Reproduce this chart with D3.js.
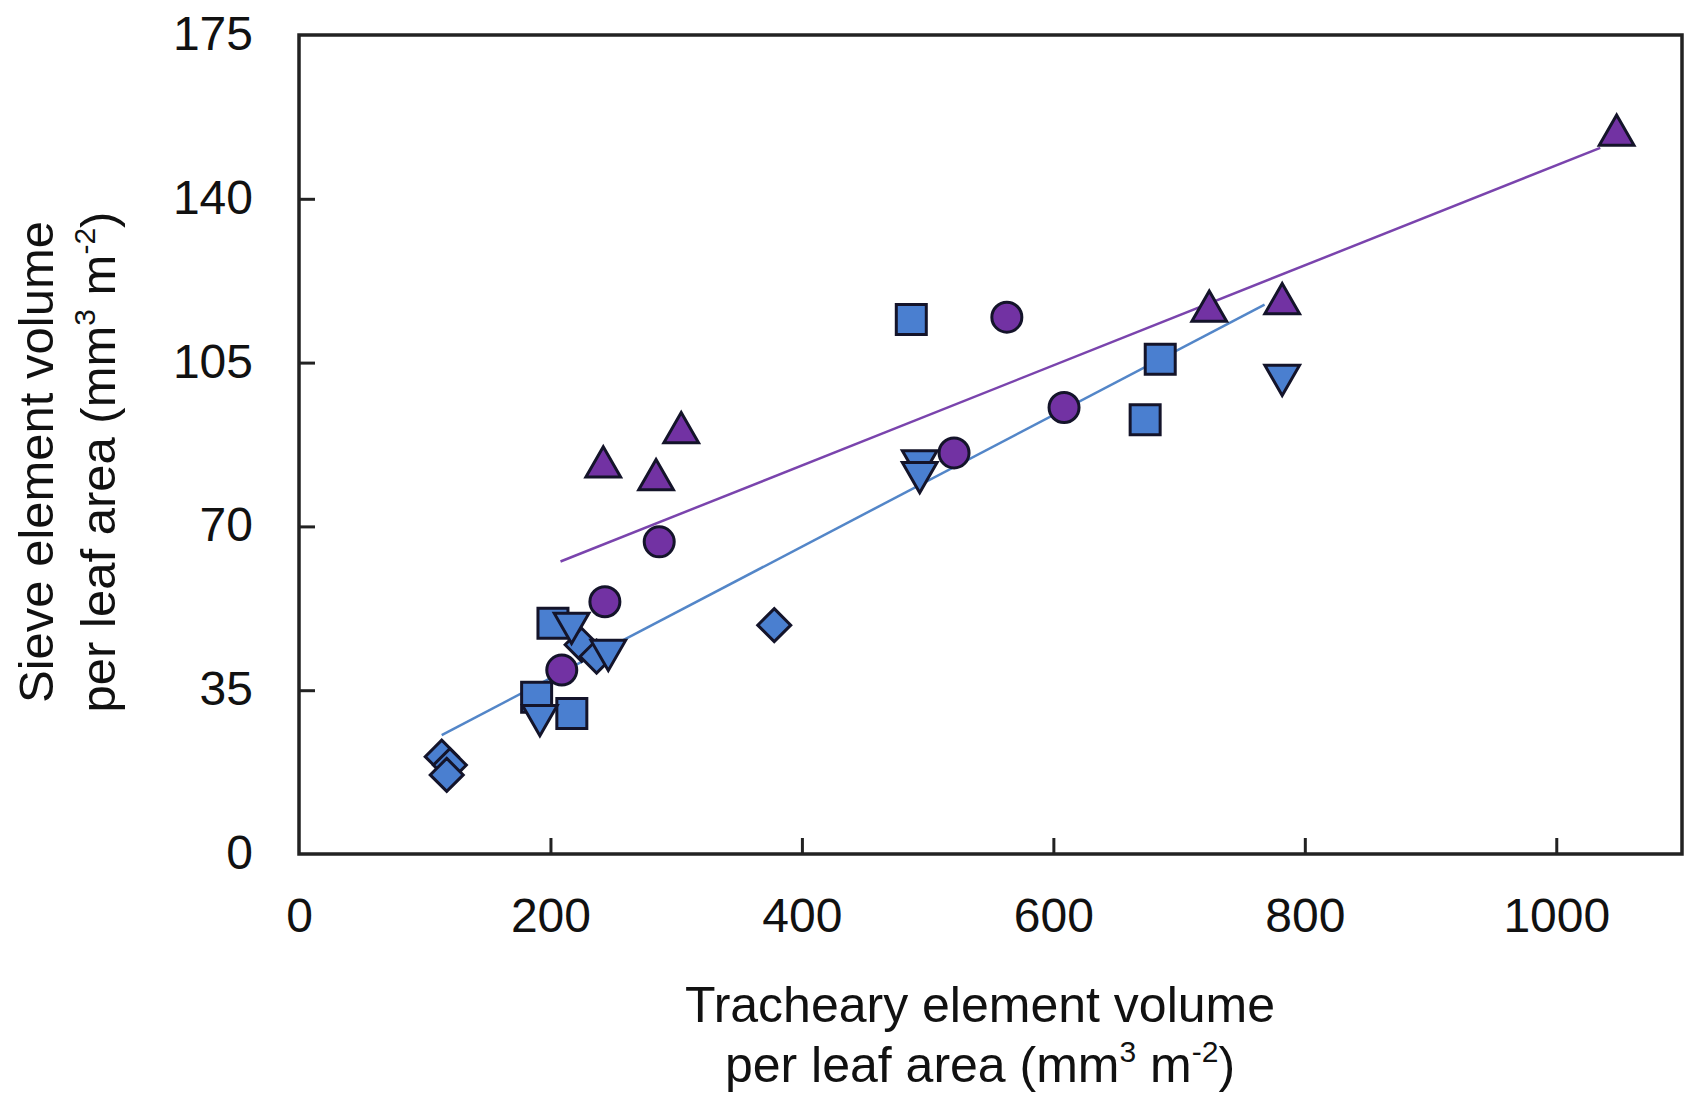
<!DOCTYPE html>
<html>
<head>
<meta charset="utf-8">
<script src="https://cdn.jsdelivr.net/npm/d3@7"></script>
<style>
  html, body { margin: 0; padding: 0; background: #fff; }
  svg { display: block; }
  text { font-family: "Liberation Sans", Arial, Helvetica, sans-serif; fill: #111; }
</style>
</head>
<body>
<svg id="chart" width="1687" height="1102"></svg>
<script>
// ---- Data ----
const xTicks = [0, 200, 400, 600, 800, 1000];
const yTicks = [0, 35, 70, 105, 140, 175];

// Purple series
const purpleTriX = [1048, 724, 782, 304, 242, 284];
const purpleTriY = [154.6, 117, 118.6, 91, 83.7, 81];
const purpleCircX = [563, 608.5, 521, 286.5, 243.3, 209];
const purpleCircY = [114.7, 95.4, 85.7, 66.7, 53.9, 39.3];

// Blue series
const blueSqX = [487, 685, 673, 202, 189, 217];
const blueSqY = [114.2, 105.7, 92.8, 49.3, 33.5, 30];
const blueDownX = [782, 493.7, 493.7, 216.8, 246, 191.6];
const blueDownY = [101.3, 83, 80.5, 48.3, 42.5, 28.6];
const blueDiaX = [378, 113.5, 120, 117.5, 224.8, 236.7];
const blueDiaY = [48.9, 20.8, 19.0, 16.9, 44.7, 42.2];

// Regression lines (endpoints)
const purpleFitX = [208, 1035];
const purpleFitY = [62.5, 150.9];
const blueFitX = [113.5, 768];
const blueFitY = [25.4, 117.4];

// ---- Layout ----
const plotL = 299, plotR = 1682, plotT = 35, plotB = 854;
const purple = "#7232a3", blue = "#4a7fd0";
const purpleLine = "#7a44ad", blueLine = "#5386c8";
const markStroke = "#14142a";

const svg = d3.select("#chart");
const x = d3.scaleLinear().domain([0, 1100]).range([plotL, plotR]);
const y = d3.scaleLinear().domain([0, 175]).range([plotB, plotT]);

const zip = (xs, ys) => xs.map((v, i) => [v, ys[i]]);

// Custom symbols (size = half width)
const symTriUp = { draw(c, r) { c.moveTo(0, -r); c.lineTo(r * 1.12, r * 0.95); c.lineTo(-r * 1.12, r * 0.95); c.closePath(); } };
const symTriDown = { draw(c, r) { c.moveTo(0, r); c.lineTo(r * 1.12, -r * 0.95); c.lineTo(-r * 1.12, -r * 0.95); c.closePath(); } };
const symSquare = { draw(c, r) { c.rect(-r, -r, 2 * r, 2 * r); } };
const symDiamond = { draw(c, r) { c.moveTo(0, -r); c.lineTo(r, 0); c.lineTo(0, r); c.lineTo(-r, 0); c.closePath(); } };
const symCircle = { draw(c, r) { c.moveTo(r, 0); c.arc(0, 0, r, 0, 2 * Math.PI); } };

// ---- Regression lines ----
const line = d3.line().x(d => x(d[0])).y(d => y(d[1]));
svg.append("path").attr("d", line(zip(purpleFitX, purpleFitY)))
  .attr("fill", "none").attr("stroke", purpleLine).attr("stroke-width", 2.5);
svg.append("path").attr("d", line(zip(blueFitX, blueFitY)))
  .attr("fill", "none").attr("stroke", blueLine).attr("stroke-width", 2.5);

// ---- Markers ----
function drawSeries(xs, ys, type, r, fill) {
  svg.append("g").selectAll("path").data(zip(xs, ys)).join("path")
    .attr("transform", d => `translate(${x(d[0])},${y(d[1])})`)
    .attr("d", d3.symbol().type(type).size(r))
    .attr("fill", fill)
    .attr("stroke", markStroke)
    .attr("stroke-width", 3)
    .attr("stroke-linejoin", "miter");
}
drawSeries(blueSqX, blueSqY, symSquare, 15, blue);
drawSeries(blueDiaX, blueDiaY, symDiamond, 16.5, blue);
drawSeries(blueDownX, blueDownY, symTriDown, 15.5, blue);
drawSeries(purpleCircX, purpleCircY, symCircle, 15, purple);
drawSeries(purpleTriX, purpleTriY, symTriUp, 15.5, purple);

// ---- Frame & axes ----
svg.append("rect").attr("x", plotL).attr("y", plotT)
  .attr("width", plotR - plotL).attr("height", plotB - plotT)
  .attr("fill", "none").attr("stroke", "#222").attr("stroke-width", 3.5);

const xAxis = d3.axisBottom(x).tickValues(xTicks).tickSize(-16).tickPadding(0).tickFormat(d3.format("d"));
const gx = svg.append("g").attr("transform", `translate(0,${plotB})`).call(xAxis);
gx.select(".domain").remove();
gx.selectAll(".tick line").attr("stroke", "#222").attr("stroke-width", 3)
  .filter(d => d === 0).remove();
gx.selectAll(".tick text").attr("y", 78).attr("dy", 0)
  .style("font-size", "48px").attr("fill", "#111");

const yAxis = d3.axisLeft(y).tickValues(yTicks).tickSize(-16).tickPadding(0);
const gy = svg.append("g").attr("transform", `translate(${plotL},0)`).call(yAxis);
gy.select(".domain").remove();
gy.selectAll(".tick line").attr("stroke", "#222").attr("stroke-width", 3)
  .filter(d => d === 0 || d === 175).remove();
gy.selectAll(".tick text").attr("x", -46).attr("dy", "0.3em")
  .style("font-size", "48px").attr("fill", "#111");

// ---- Axis titles ----
const xt = svg.append("text").attr("text-anchor", "middle").style("font-size", "50px");
xt.append("tspan").attr("x", 980).attr("y", 1022).text("Tracheary element volume");
const xt2 = svg.append("text").attr("text-anchor", "middle").style("font-size", "50px")
  .attr("x", 980).attr("y", 1082);
xt2.append("tspan").text("per leaf area (mm");
xt2.append("tspan").attr("dy", -20).style("font-size", "30px").text("3");
xt2.append("tspan").attr("dy", 20).text(" m");
xt2.append("tspan").attr("dy", -20).style("font-size", "30px").text("-2");
xt2.append("tspan").attr("dy", 20).text(")");

const yt = svg.append("g").attr("transform", "translate(0,462) rotate(-90)");
yt.append("text").attr("text-anchor", "middle").attr("x", 0).attr("y", 53)
  .style("font-size", "49px").text("Sieve element volume");
const yt2 = yt.append("text").attr("text-anchor", "middle").attr("x", 0).attr("y", 115)
  .style("font-size", "49px");
yt2.append("tspan").text("per leaf area (mm");
yt2.append("tspan").attr("dy", -20).style("font-size", "30px").text("3");
yt2.append("tspan").attr("dy", 20).text(" m");
yt2.append("tspan").attr("dy", -20).style("font-size", "30px").text("-2");
yt2.append("tspan").attr("dy", 20).text(")");
</script>
</body>
</html>
